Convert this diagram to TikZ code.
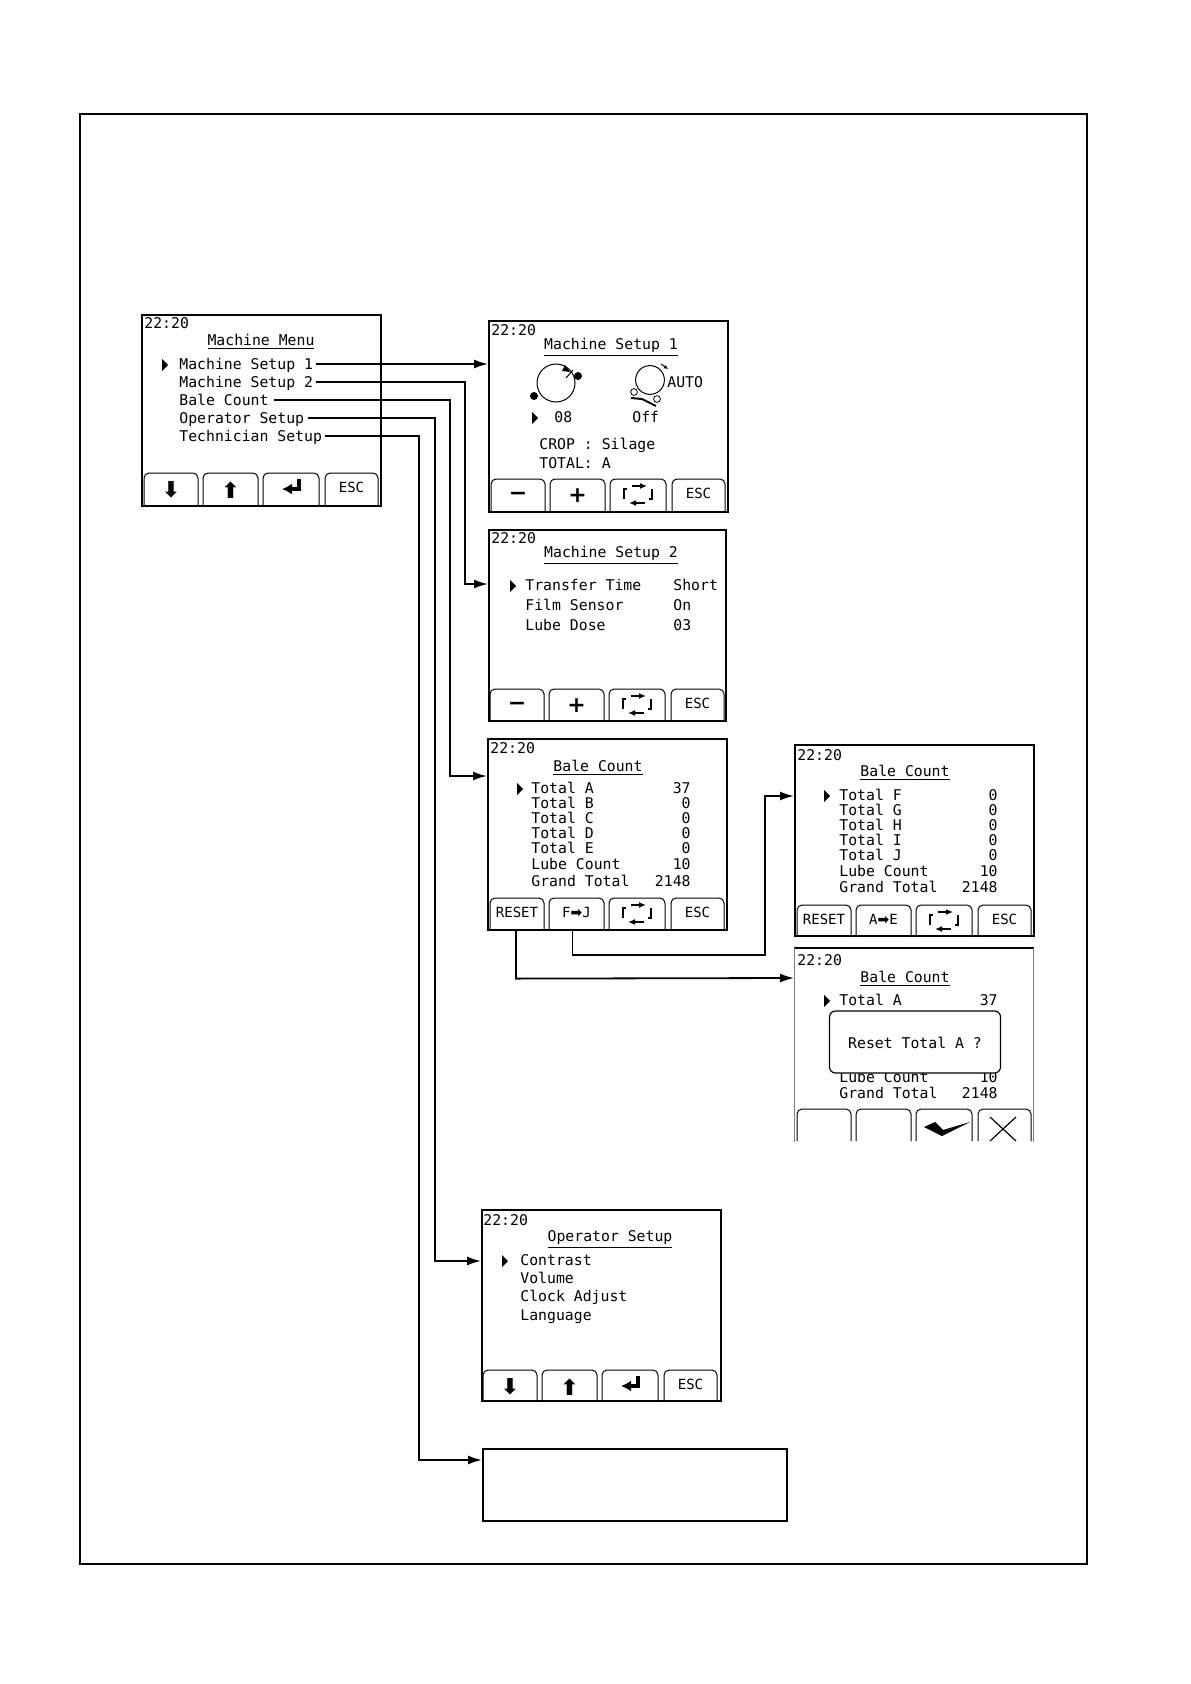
\documentclass[tikz,border=0pt]{standalone}
\usepackage{fontspec}
\usetikzlibrary{arrows.meta}
\newfontfamily\lcdfont{DejaVu Sans Mono}
\newfontfamily\symfont{DejaVu Sans}

\tikzset{
    lcd/.style={font=\lcdfont\fontsize{7.4}{8}\selectfont, inner sep=0pt, text height=8pt, text depth=1.5pt, xshift=0.5pt, anchor=west},
    lcdval/.style={lcd, anchor=east},
    lcdtitle/.style={lcd, anchor=center},
    keytext/.style={font=\lcdfont\fontsize{7}{8}\selectfont, inner sep=0pt, yshift=1.5pt},
    keysym/.style={font=\symfont\bfseries\fontsize{11}{12}\selectfont, inner sep=0pt},
    lcdframe/.style={draw, line width=0.8pt, inner sep=0pt, minimum width=119.5pt, minimum height=95.5pt, anchor=north west},
    conn/.style={line width=0.9pt, -{Latex[length=7pt,width=4.5pt]}},
    enterkey/.pic={
        \draw[line width=1.8pt, -{Latex[length=5pt,width=5.5pt]}] (8,-8) -- (8,2) -- (-9,2);
    },
    cyclekey/.pic={
        \draw[line width=0.8pt, -{Latex[length=3.5pt,width=3pt]}] (-6,-7) -- (9,-7);
        \draw[line width=0.8pt, -{Latex[length=3.5pt,width=3pt]}] (7,10) -- (-9,10);
        \draw[line width=0.8pt] (-11,-4) -- (-14,-4) -- (-14,6);
        \draw[line width=0.8pt] (14,-4) -- (14,6) -- (11,6);
    }
}
\newcommand{\softkey}[6]{%
    \draw[line width=0.5pt, rounded corners=2.5pt] (#2,#3) -- (#2,#3-32) -- (#2+#4,#3-32) -- (#2+#4,#3);
    \node[#6] (#1) at (#2+#4/2,#3-15) {#5};
}
\newcommand{\softkeys}[7]{%
    \softkey{#1a}{#2+3}{#3}{54}{#4}{\ifx#4\keydn keysym\else\ifx#4\keyminus keysym\else keytext\fi\fi}
    \softkey{#1b}{#2+62}{#3}{55}{#5}{\ifx#5\keyup keysym\else\ifx#5\keyplus keysym\else keytext\fi\fi}
    \softkey{#1c}{#2+122}{#3}{56}{#6}{keytext}
    \softkey{#1d}{#2+184}{#3}{53}{#7}{keytext}
}
\newcommand{\keydn}{⬇}
\newcommand{\keyup}{⬆}
\newcommand{\keyminus}{−}
\newcommand{\keyplus}{+}
\newcommand{\cursor}[2]{\fill (#1-2,#2-4) -- (#1+4,#2+2) -- (#1-2,#2+8) -- cycle;}

\begin{document}
\begin{tikzpicture}[x=0.5pt,y=-0.5pt]
    \useasboundingbox (1,1) rectangle (1191,1685);
    \node[draw, line width=0.8pt, inner sep=0pt, minimum width=503.5pt, minimum height=725pt, anchor=north west] (page) at (80,114) {};

    % Machine Menu
    \node[lcdframe] (menu) at (142,315) {};
    \node[lcd] (menuclock) at (144,323) {22:20};
    \node[lcdtitle] (menutitle) at (261,340) {\underline{Machine Menu}};
    \cursor{165}{364}
    \node[lcd] (itema) at (179,364) {Machine Setup 1};
    \node[lcd] (itemb) at (179,382) {Machine Setup 2};
    \node[lcd] (itemc) at (179,400) {Bale Count};
    \node[lcd] (itemd) at (179,418) {Operator Setup};
    \node[lcd] (iteme) at (179,436) {Technician Setup};
    \softkeys{menukey}{142}{506}{\keydn}{\keyup}{}{ESC}
    \pic at (menukeyc) {enterkey};

    % Machine Setup 1
    \node[lcdframe] (setupa) at (489,321) {};
    \node[lcd] (setupaclock) at (491,330) {22:20};
    \node[lcdtitle] (setupatitle) at (611,344) {\underline{Machine Setup 1}};
    \begin{scope}[shift={(1,1)}]
    \draw[line width=0.5pt] (556,383) circle (9.5pt); % linker Kreis
    \fill (578,376) circle (2pt);
    \fill (534,396) circle (2pt);
    \draw[line width=0.5pt] (566,378) -- (573,370);
    \fill (570,372) -- (562,371) -- (565,365) -- cycle;
    \draw[line width=0.5pt] (650,380) circle (7.2pt); % rechter Kreis
    \draw[line width=0.4pt] (634,392) circle (1.7pt);
    \draw[line width=0.4pt] (657,399) circle (1.7pt);
    \draw[line width=1pt] (631,398) -- (642,399) -- (656,406);
    \draw[line width=0.5pt, -{Latex[length=2pt,width=2pt]}] (661,364) -- (668,369);
    \end{scope}
    \node[lcd] (auto) at (667,382) {AUTO};
    \cursor{535}{417}
    \node[lcd] (knives) at (554,417) {08};
    \node[lcd] (wrap) at (632,417) {Off};
    \node[lcd] (crop) at (539,444) {CROP : Silage};
    \node[lcd] (total) at (539,463) {TOTAL: A};
    \softkeys{setupakey}{489}{512}{\keyminus}{\keyplus}{}{ESC}
    \pic at (setupakeyc) {cyclekey};

    % Machine Setup 2
    \node[lcdframe, minimum width=118.5pt] (setupb) at (489,530) {};
    \node[lcd] (setupbclock) at (491,538) {22:20};
    \node[lcdtitle] (setupbtitle) at (611,552) {\underline{Machine Setup 2}};
    \cursor{513}{585}
    \node[lcd] (trans) at (525,585) {Transfer Time};
    \node[lcd] (film) at (525,605) {Film Sensor};
    \node[lcd] (lube) at (525,625) {Lube Dose};
    \node[lcd] (transval) at (673,585) {Short};
    \node[lcd] (filmval) at (673,605) {On};
    \node[lcd] (lubeval) at (673,625) {03};
    \softkeys{setupbkey}{488}{722}{\keyminus}{\keyplus}{}{ESC}
    \pic at (setupbkeyc) {cyclekey};

    % Bale Count A-E
    \node[lcdframe] (balea) at (488,739) {};
    \node[lcd] (baleaclock) at (490,748) {22:20};
    \node[lcdtitle] (baleatitle) at (598,766) {\underline{Bale Count}};
    \cursor{520}{788}
    \foreach \name/\ypos/\val in {Total A/788/37, Total B/803/0, Total C/818/0, Total D/833/0, Total E/848/0, Lube Count/864/10, Grand Total/881/2148}{
        \node[lcd] at (531,\ypos) {\name};
        \node[lcdval] at (691,\ypos) {\val};
    }
    \softkeys{baleakey}{488}{931}{RESET}{F{\symfont\bfseries ➡}J}{}{ESC}
    \pic at (baleakeyc) {cyclekey};

    % Bale Count F-J
    \node[lcdframe] (baleb) at (795,745) {};
    \node[lcd] (balebclock) at (797,755) {22:20};
    \node[lcdtitle] (balebtitle) at (905,771) {\underline{Bale Count}};
    \cursor{827}{795}
    \foreach \name/\ypos/\val in {Total F/795/0, Total G/810/0, Total H/825/0, Total I/840/0, Total J/855/0, Lube Count/871/10, Grand Total/887/2148}{
        \node[lcd] at (839,\ypos) {\name};
        \node[lcdval] at (998,\ypos) {\val};
    }
    \softkeys{balebkey}{795}{938}{RESET}{A{\symfont\bfseries ➡}E}{}{ESC}
    \pic at (balebkeyc) {cyclekey};

    % Reset Total A
    \node[inner sep=0pt, minimum width=119.5pt, minimum height=96.5pt, anchor=north west] (reset) at (795,949) {};
    \draw[line width=0.9pt] (reset.north west) -- (reset.north east);
    \draw[line width=0.5pt, gray] (reset.north west) -- (reset.south west);
    \draw[line width=0.5pt, gray] (reset.north east) -- (reset.south east);
    \node[lcd] (resetclock) at (797,960) {22:20};
    \node[lcdtitle] (resettitle) at (905,977) {\underline{Bale Count}};
    \cursor{827}{1000}
    \foreach \name/\ypos/\val in {Total A/1000/37, Lube Count/1077/10, Grand Total/1093/2148}{
        \node[lcd] at (839,\ypos) {\name};
        \node[lcdval] at (998,\ypos) {\val};
    }
    \node[draw, line width=0.6pt, fill=white, rounded corners=3pt, minimum width=85.5pt, minimum height=31pt, lcdtitle] (dialog) at (915,1043) {Reset Total A ?};
    \softkey{resetkeya}{798}{1142}{54}{}{keytext}
    \softkey{resetkeyb}{857}{1142}{55}{}{keytext}
    \softkey{resetkeyc}{917}{1142}{56}{}{keytext}
    \softkey{resetkeyd}{979}{1142}{53}{}{keytext}
    \fill (925,1128) -- (943,1137) -- (971,1123) -- (944,1131) -- (936,1123) -- cycle; % Haken
    \draw[line width=0.6pt] (991,1118) -- (1017,1142);
    \draw[line width=0.6pt] (1017,1118) -- (991,1142);

    % Operator Setup
    \node[lcdframe] (oper) at (482,1210) {};
    \node[lcd] (operclock) at (483,1220) {22:20};
    \node[lcdtitle] (opertitle) at (610,1236) {\underline{Operator Setup}};
    \cursor{505}{1260}
    \node[lcd] (contrast) at (520,1260) {Contrast};
    \node[lcd] (volume) at (520,1278) {Volume};
    \node[lcd] (clockadj) at (520,1296) {Clock Adjust};
    \node[lcd] (language) at (520,1315) {Language};
    \softkeys{operkey}{481}{1403}{\keydn}{\keyup}{}{ESC}
    \pic at (operkeyc) {enterkey};

    % Technician Setup
    \node[draw, line width=1pt, inner sep=0pt, minimum width=152pt, minimum height=36pt, anchor=north west] (tech) at (483,1449) {};

    % Verbindungen
    \coordinate (setupain) at (489,365);
    \coordinate (setupbin) at (489,585);
    \coordinate (baleain) at (488,777);
    \coordinate (operin) at (482,1262);
    \coordinate (techin) at (483,1461);
    \coordinate (balebin) at (795,797);
    \coordinate (resetin) at (795,979);
    \draw[conn] (itema.east) ++(3,1) -- (setupain);
    \draw[conn] (itemb.east) ++(3,1) -- (466,383) |- (setupbin);
    \draw[conn] (itemc.east) ++(5,1) -- (451,401) |- (baleain);
    \draw[conn] (itemd.east) ++(3,1) -- (436,419) |- (operin);
    \draw[conn] (iteme.east) ++(3,1) -- (420,437) |- (techin);
    \draw[conn] (baleakeyb |- balea.south) ++(-4,0) -- ++(0,24) -| (766,850) |- (balebin);
    \draw[conn] (baleakeya |- balea.south) ++(-1,0) -- ++(0,48) -- (resetin);
\end{tikzpicture}
\end{document}
